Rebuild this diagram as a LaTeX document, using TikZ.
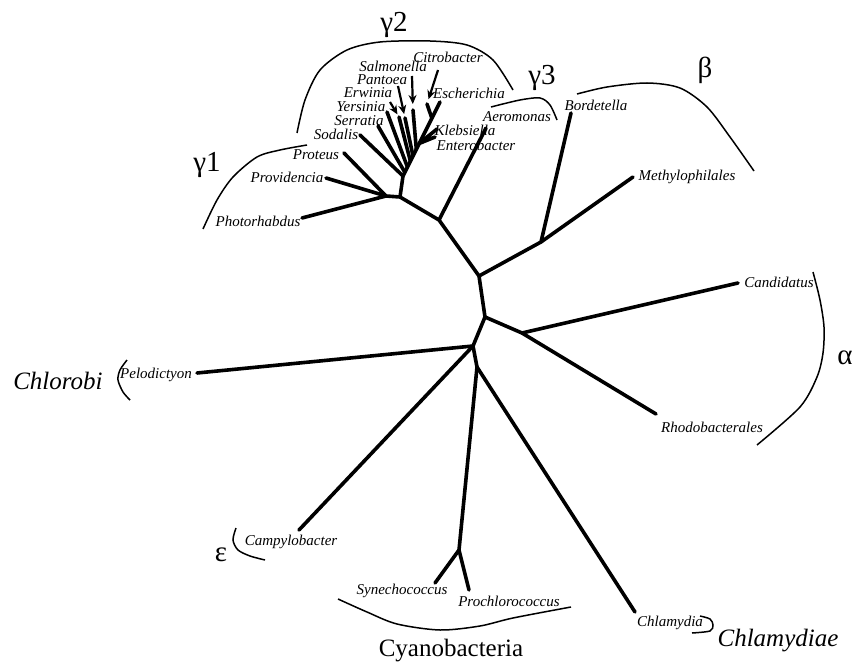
\documentclass[tikz,border=0pt]{standalone}
\usepackage{fontspec}
\setmainfont{Liberation Serif}
\usepackage{tikz}
\usetikzlibrary{arrows.meta,calc}

\begin{document}
\begin{tikzpicture}[x=1pt, y=-1pt,
    branch/.style={line width=3.6pt, line cap=round, line join=round},
    clade/.style={line width=1.5pt},
    taxon/.style={font=\fontsize{15}{17}\selectfont\itshape, inner sep=0pt},
    group/.style={font=\fontsize{29}{32}\selectfont, inner sep=0pt},
    pointer/.style={-{Stealth[length=9pt,width=8pt]}, line width=2.2pt},
  ]
  \useasboundingbox (0,0) rectangle (855,666);

  % Unutarnji cvorovi
  \coordinate (gam1) at (386,196);
  \coordinate (gam) at (400,197);
  \coordinate (ent) at (403,176);
  \coordinate (gam3) at (439,220);
  \coordinate (mid) at (479,276);
  \coordinate (beta) at (541,242);
  \coordinate (low) at (485,317);
  \coordinate (alpha) at (522,333);
  \coordinate (base) at (473,346);
  \coordinate (deep) at (477,367);
  \coordinate (cyan) at (459,550);

  % Listovi
  \coordinate (photo) at (302,218);
  \coordinate (provi) at (326,178);
  \coordinate (prot) at (344,153);
  \coordinate (sodal) at (360,135);
  \coordinate (serr) at (378,126);
  \coordinate (yers) at (387,112);
  \coordinate (erw) at (399,117);
  \coordinate (pant) at (405,118);
  \coordinate (salm) at (413,110);
  \coordinate (citro) at (427,104);
  \coordinate (esch) at (440,102);
  \coordinate (kleb) at (437,129);
  \coordinate (entb) at (435,137);
  \coordinate (aero) at (486,128);
  \coordinate (bord) at (571,113);
  \coordinate (methy) at (633,177);
  \coordinate (cand) at (738,283);
  \coordinate (rhodo) at (656,414);
  \coordinate (pelo) at (197,373);
  \coordinate (campy) at (299,530);
  \coordinate (syne) at (435,583);
  \coordinate (proch) at (469,590);
  \coordinate (chlam) at (635,612);

  % Tocke na stablu enterobakterija
  \coordinate (s1) at ($(ent)!0.05!(esch)$);
  \coordinate (s2) at ($(ent)!0.12!(esch)$);
  \coordinate (s3) at ($(ent)!0.20!(esch)$);
  \coordinate (s4) at ($(ent)!0.27!(esch)$);
  \coordinate (s5) at ($(ent)!0.36!(esch)$);
  \coordinate (s6) at ($(ent)!0.44!(esch)$);
  \coordinate (s7) at ($(ent)!0.78!(esch)$);

  % Nazivi
  \node[taxon] (lCit) at (448,57) {Citrobacter};
  \node[taxon] (lSal) at (393,66) {Salmonella};
  \node[taxon] (lPan) at (382,80) {Pantoea};
  \node[taxon] (lErw) at (368,93) {Erwinia};
  \node[taxon] (lYer) at (361,107) {Yersinia};
  \node[taxon] (lSer) at (359,121) {Serratia};
  \node[taxon] (lSod) at (336,134) {Sodalis};
  \node[taxon] (lEsc) at (469,93) {Escherichia};
  \node[taxon] (lKle) at (465,130) {Klebsiella};
  \node[taxon] (lEnt) at (476,145) {Enterobacter};
  \node[taxon] (lAer) at (517,117) {Aeromonas};
  \node[taxon] (lPro) at (316,155) {Proteus};
  \node[taxon] (lPrv) at (287,177) {Providencia};
  \node[taxon] (lPho) at (258,221) {Photorhabdus};
  \node[taxon] (lBor) at (596,105) {Bordetella};
  \node[taxon] (lMet) at (687,177) {Methylophilales};
  \node[taxon] (lCan) at (779,282) {Candidatus};
  \node[taxon] (lRho) at (712,427) {Rhodobacterales};
  \node[taxon] (lPel) at (156,375) {Pelodictyon};
  \node[taxon] (lCam) at (291,542) {Campylobacter};
  \node[taxon] (lSyn) at (402,591) {Synechococcus};
  \node[taxon] (lPrc) at (509,601) {Prochlorococcus};
  \node[taxon] (lChl) at (670,623) {Chlamydia};

  % Glavni tok
  \draw[branch] (photo) -- (gam1) -- (gam) -- (gam3) -- (mid) -- (low)
    -- (base) -- (deep) -- (cyan);
  \draw[branch] (provi) -- (gam1);
  \draw[branch] (prot) -- (gam1);
  \draw[branch] (gam) -- (ent) -- (esch);
  \draw[branch] (sodal) -- (ent);
  \draw[branch] (serr) -- (s1);
  \draw[branch] (yers) -- (s2);
  \draw[branch] (erw) -- (s3);
  \draw[branch] (pant) -- (s4);
  \draw[branch] (salm) -- (s5);
  \draw[branch] (kleb) -- (s6) -- (entb);
  \draw[branch] (citro) -- (s7);
  \draw[branch] (gam3) -- (aero);
  \draw[branch] (mid) -- (beta) -- (bord);
  \draw[branch] (beta) -- (methy);
  \draw[branch] (low) -- (alpha) -- (cand);
  \draw[branch] (alpha) -- (rhodo);
  \draw[branch] (base) -- (pelo);
  \draw[branch] (base) -- (campy);
  \draw[branch] (deep) -- (chlam);
  \draw[branch] (syne) -- (cyan) -- (proch);

  % Strelice
  \coordinate (aErw) at (390,102);
  \coordinate (aPan) at (398,86);
  \coordinate (aSal) at (412,76);
  \coordinate (aCit) at (438,70);
  \draw[pointer, shorten >=3pt] (aErw) -- (erw);
  \draw[pointer, shorten >=4pt] (aPan) -- (pant);
  \draw[pointer, shorten >=6pt] (aSal) -- (salm);
  \draw[pointer, shorten >=5pt] (aCit) -- (citro);

  % Zagrade skupina
  \draw[clade] plot[smooth] coordinates {(297,133) (305,100) (320,70)
    (347,50) (380,42) (430,41) (467,45) (493,60) (513,90)};
  \draw[clade] plot[smooth] coordinates {(203,229) (217,200) (233,177)
    (257,157) (280,150) (307,145)};
  \draw[clade] plot[smooth] coordinates {(491,107) (520,100) (540,98)
    (550,105) (557,120)};
  \draw[clade] plot[smooth] coordinates {(577,94) (607,87) (647,83)
    (680,88) (707,107) (730,137) (754,171)};
  \draw[clade] plot[smooth] coordinates {(813,272) (820,300) (824,327)
    (823,353) (817,377) (800,407) (757,445)};
  \draw[clade] plot[smooth] coordinates {(127,360) (120,370) (118,380)
    (123,392) (130,400)};
  \draw[clade] plot[smooth] coordinates {(236,528) (233,540) (238,550)
    (250,556) (265,560)};
  \draw[clade] plot[smooth] coordinates {(338,599) (367,612) (397,624)
    (440,630) (480,626) (513,618) (571,607)};
  \draw[clade] plot[smooth] coordinates {(700,616) (710,619) (713,625)
    (710,631) (692,633)};

  % Oznake skupina
  \node[group] (g2) at (394,25) {γ2};
  \node[group] (g3) at (542,78) {γ3};
  \node[group] (g1) at (207,165) {γ1};
  \node[group] (gb) at (705,70) {β};
  \node[group] (ga) at (845,358) {α};
  \node[group] (ge) at (221,555) {ε};
  \node[group, font=\fontsize{25}{30}\selectfont\itshape] (gchl) at (58,381) {Chlorobi};
  \node[group, font=\fontsize{25}{30}\selectfont] (gcya) at (451,651) {Cyanobacteria};
  \node[group, font=\fontsize{25}{30}\selectfont\itshape] (gcla) at (778,641) {Chlamydiae};
\end{tikzpicture}
\end{document}
